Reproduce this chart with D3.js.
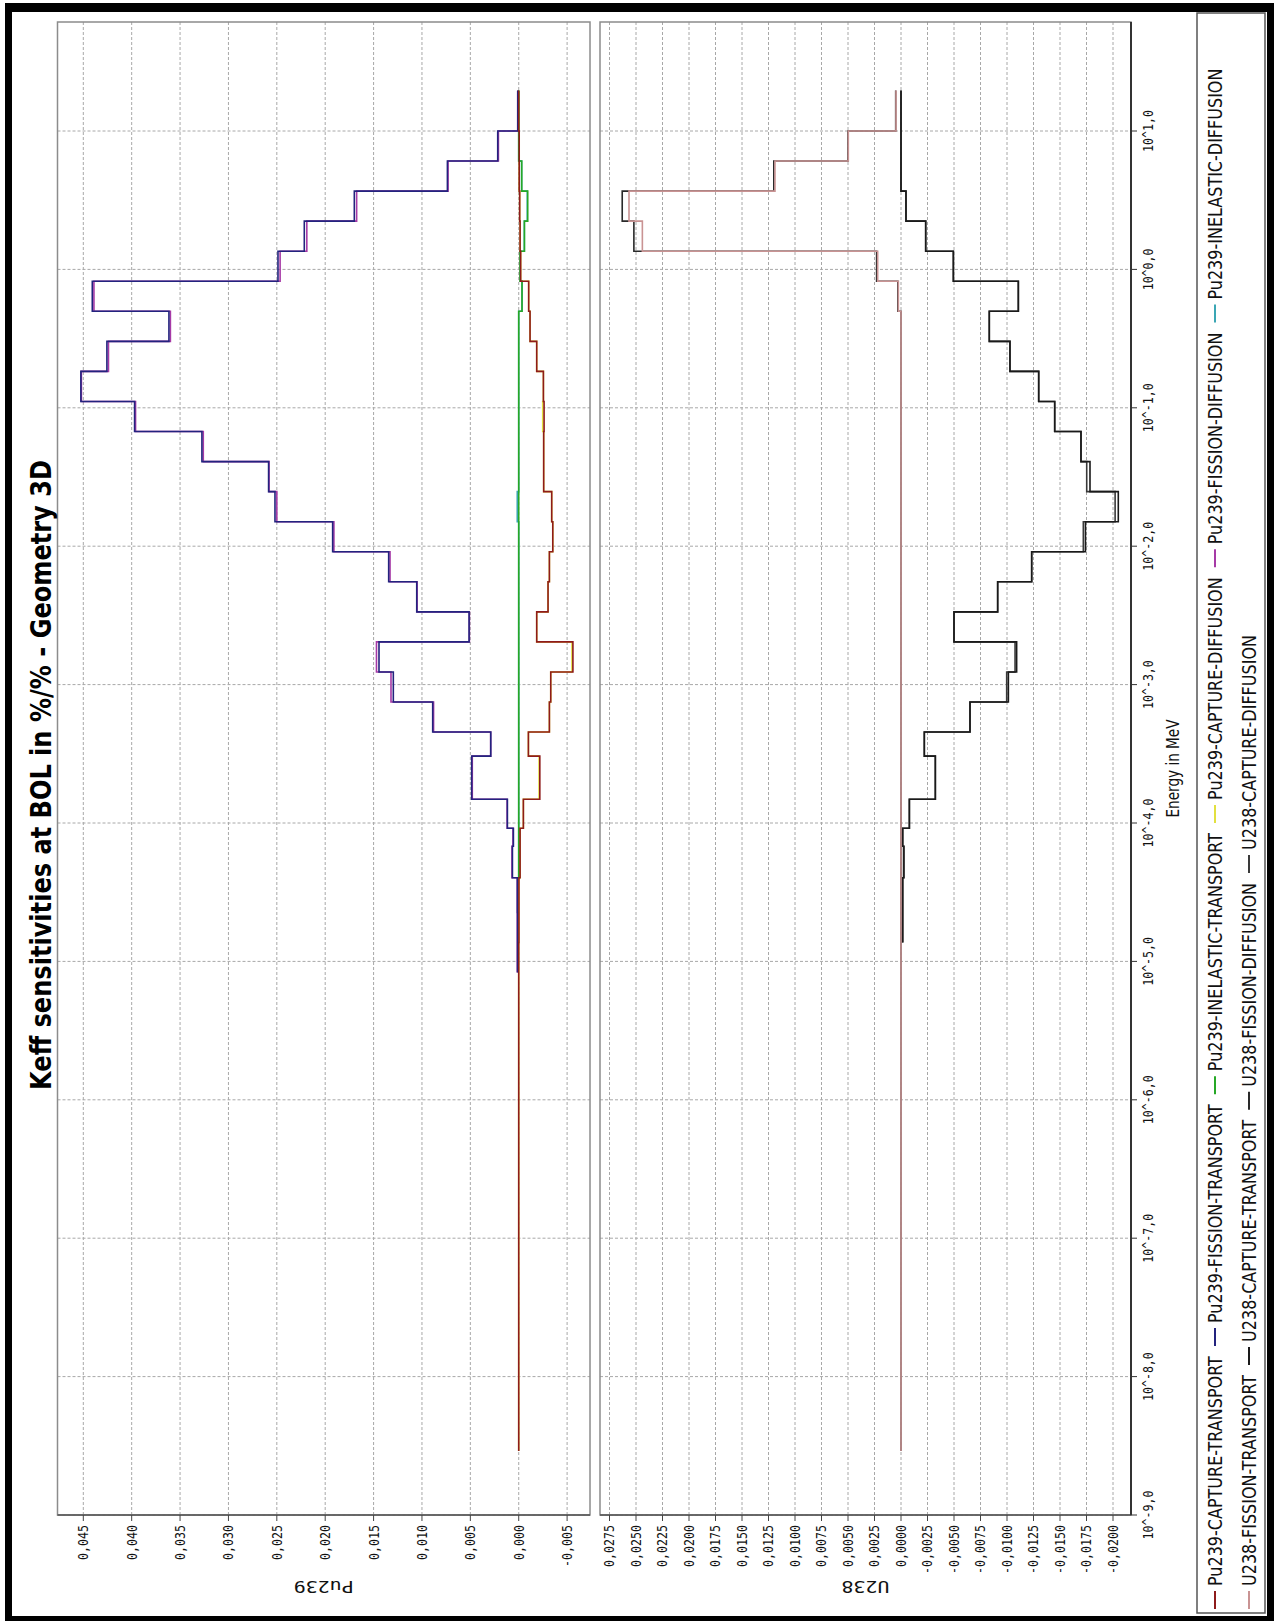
<!DOCTYPE html>
<html>
<head>
<meta charset="utf-8">
<script src="https://cdn.jsdelivr.net/npm/d3@7"></script>
<style>
  body { margin: 0; background: #fff; }
  svg { display: block; }
</style>
</head>
<body>
<svg id="chart" width="1274" height="1621"></svg>
<script>
// 33-group energy bounds in MeV, high to low (last one is where the plot stops)
const groupBounds = [19.64, 10.0, 6.065, 3.679, 2.231, 1.353, 0.8208, 0.4979, 0.3020, 0.1832,
  0.1111, 0.06738, 0.04087, 0.02479, 0.01503, 0.009119, 0.005531, 0.003355, 0.002035, 0.001234,
  7.485e-4, 4.540e-4, 3.043e-4, 1.486e-4, 9.166e-5, 6.790e-5, 4.017e-5, 2.260e-5, 1.371e-5,
  8.315e-6, 4.0e-6, 5.4e-7, 1.0e-7, 2.9e-9];

const energyDecades = [-9, -8, -7, -6, -5, -4, -3, -2, -1, 0, 1];
const puTicks = [0.045, 0.040, 0.035, 0.030, 0.025, 0.020, 0.015, 0.010, 0.005, 0.000, -0.005];
const uTicks = [0.0275, 0.0250, 0.0225, 0.0200, 0.0175, 0.0150, 0.0125, 0.0100, 0.0075, 0.0050,
  0.0025, 0.0000, -0.0025, -0.0050, -0.0075, -0.0100, -0.0125, -0.0150, -0.0175, -0.0200];

// group values, group 1 (highest energy) first
const pu239CaptureTransport = [0, -0.00005, -0.00005, -0.0001, -0.00014, -0.0002, -0.00103, -0.00117,
  -0.00186, -0.00255, -0.00262, -0.00258, -0.00258, -0.00341, -0.00352, -0.00317, -0.00303, -0.00186,
  -0.0056, -0.00331, -0.00317, -0.001, -0.00218, -0.00048, -0.00014, -0.00014, -0.00002, -0.00002,
  0, 0, 0, 0, 0];
const pu239FissionTransport = [0.0001, 0.00217, 0.00737, 0.01699, 0.02216, 0.02488, 0.04407, 0.03615,
  0.04256, 0.04525, 0.0397, 0.03274, 0.02585, 0.02519, 0.01923, 0.01344, 0.01054, 0.00513, 0.01444,
  0.01296, 0.00889, 0.00289, 0.00486, 0.00117, 0.00055, 0.00065, 0.00014, 0.00012, 0.00012];
const pu239InelasticTransport = [0, 0, -0.00031, -0.00093, -0.00059, -0.00014, -0.00034, 0, 0, 0,
  0, 0, 0, 0, 0, 0, 0, 0, 0, 0, 0, 0, 0, 0, 0, 0];
const pu239CaptureDiffusion = [0, -0.00005, -0.00005, -0.0001, -0.00014, -0.0002, -0.00103, -0.00117,
  -0.00186, -0.00255, -0.00248, -0.00258, -0.00258, -0.00341, -0.00352, -0.00317, -0.00303, -0.00186,
  -0.0055, -0.00331, -0.00317, -0.001, -0.0021, -0.00048, -0.00014, -0.00014, -0.00002, -0.00002,
  0, 0, 0, 0, 0];
const pu239FissionDiffusion = [0.0001, 0.0021, 0.0073, 0.01675, 0.0219, 0.02466, 0.0439, 0.0360,
  0.0424, 0.0452, 0.0396, 0.0326, 0.0258, 0.0250, 0.0191, 0.0133, 0.0105, 0.0051, 0.0147,
  0.0132, 0.0088, 0.0029, 0.0048, 0.0012, 0.0006, 0.0007, 0.00015, 0.00015, 0.00015];
const pu239InelasticDiffusion = [0, 0, -0.0003, -0.00088, -0.00058, -0.00014, -0.00034, 0, 0, 0,
  0, 0, 0, 0.00015, 0, 0, 0, 0, 0, 0, 0, 0, 0, 0, 0, 0];

const u238FissionTransport = [0.00047, 0.00497, 0.01189, 0.02566, 0.0244, 0.0022, 0.00025, 0, 0, 0,
  0, 0, 0, 0, 0, 0, 0, 0, 0, 0, 0, 0, 0, 0, 0, 0, 0, 0, 0, 0, 0, 0, 0];
const u238CaptureTransport = [0, 0, 0, -0.00047, -0.00233, -0.00494, -0.01107, -0.00833, -0.01028,
  -0.01299, -0.0145, -0.01698, -0.01783, -0.0205, -0.0174, -0.01233, -0.00912, -0.0050, -0.01091,
  -0.01013, -0.00651, -0.0022, -0.00324, -0.00079, -0.00016, -0.00028, -0.00016, -0.00016];
const u238FissionDiffusion = [0.0005, 0.0050, 0.0120, 0.0263, 0.0252, 0.0023, 0.0003, 0, 0, 0,
  0, 0, 0, 0, 0, 0, 0, 0, 0, 0, 0, 0, 0, 0, 0, 0, 0, 0, 0, 0, 0, 0, 0];
const u238CaptureDiffusion = [0, 0, 0, -0.00047, -0.00233, -0.00494, -0.01107, -0.00833, -0.01028,
  -0.01299, -0.0145, -0.01698, -0.01752, -0.0202, -0.0172, -0.01233, -0.00912, -0.0050, -0.01076,
  -0.00997, -0.00651, -0.0022, -0.00324, -0.00079, -0.00016, -0.00024, -0.00016, -0.00016];

const puSeries = [
  { name: "Pu239-CAPTURE-TRANSPORT", color: "#8e1b1b", values: pu239CaptureTransport },
  { name: "Pu239-FISSION-TRANSPORT", color: "#23237e", values: pu239FissionTransport },
  { name: "Pu239-INELASTIC-TRANSPORT", color: "#26a826", values: pu239InelasticTransport },
  { name: "Pu239-CAPTURE-DIFFUSION", color: "#e2e040", values: pu239CaptureDiffusion },
  { name: "Pu239-FISSION-DIFFUSION", color: "#a63aa6", values: pu239FissionDiffusion },
  { name: "Pu239-INELASTIC-DIFFUSION", color: "#3aa6b4", values: pu239InelasticDiffusion }
];
const uSeries = [
  { name: "U238-FISSION-TRANSPORT", color: "#c99393", values: u238FissionTransport },
  { name: "U238-CAPTURE-TRANSPORT", color: "#1a1a1a", values: u238CaptureTransport },
  { name: "U238-FISSION-DIFFUSION", color: "#2a2a2a", values: u238FissionDiffusion },
  { name: "U238-CAPTURE-DIFFUSION", color: "#3a3a3a", values: u238CaptureDiffusion }
];

const W = 1274, H = 1621;
const svg = d3.select("#chart");

// black frame round the picture
svg.append("path")
  .attr("d", `M5,3H${W}V${H}H5Z M12,12V1616H1267V12Z`)
  .attr("fill", "#000")
  .attr("fill-rule", "evenodd");

// the chart is laid out unrotated (width H, height W) and turned a quarter left
const g = svg.append("g").attr("transform", `translate(0,${H}) rotate(-90)`);

const plotLeft = 106, plotRight = 1599;
const x = d3.scaleLog().domain([1e-9, 10]).range([plotLeft, 1490]);
const yPu = d3.scaleLinear().domain([0.045, -0.005]).range([83.3, 567.1]);
const yU = d3.scaleLinear().domain([0.0275, -0.02]).range([609.5, 1113]);

const tickFont = "'DejaVu Sans Mono', monospace";
const squeeze = 0.8;

function fmt(v, digits) {
  return (v < 0 ? "-" : "") + Math.abs(v).toFixed(digits).replace(".", ",");
}

function stepPoints(values) {
  const pts = [];
  for (let i = values.length - 1; i >= 0; i--) {
    pts.push([groupBounds[i + 1], values[i]]);
    pts.push([groupBounds[i], values[i]]);
  }
  return pts;
}

function drawPanel(yScale, top, bottom, ticks, digits, label, series) {
  const panel = g.append("g");

  // grid
  panel.selectAll("line.egrid")
    .data(energyDecades)
    .enter().append("line")
    .attr("x1", d => x(Math.pow(10, d))).attr("x2", d => x(Math.pow(10, d)))
    .attr("y1", top).attr("y2", bottom)
    .attr("stroke", "#a8a8a8").attr("stroke-dasharray", "3,2");
  panel.selectAll("line.vgrid")
    .data(ticks)
    .enter().append("line")
    .attr("x1", plotLeft).attr("x2", plotRight)
    .attr("y1", d => yScale(d)).attr("y2", d => yScale(d))
    .attr("stroke", "#a8a8a8").attr("stroke-dasharray", "3,2");

  panel.append("rect")
    .attr("x", plotLeft).attr("y", top)
    .attr("width", plotRight - plotLeft).attr("height", bottom - top)
    .attr("fill", "none").attr("stroke", "#8c8c8c").attr("stroke-width", 1.5);
  panel.append("line")
    .attr("x1", plotLeft).attr("x2", plotLeft).attr("y1", top).attr("y2", bottom)
    .attr("stroke", "#555").attr("stroke-width", 1.5);

  // value ticks and labels
  panel.selectAll("line.tick")
    .data(ticks)
    .enter().append("line")
    .attr("x1", plotLeft - 6).attr("x2", plotLeft)
    .attr("y1", d => yScale(d)).attr("y2", d => yScale(d))
    .attr("stroke", "#444");
  panel.selectAll("text.tick")
    .data(ticks)
    .enter().append("text")
    .attr("transform", d => `translate(${plotLeft - 10},${yScale(d)}) scale(${squeeze},1)`)
    .attr("text-anchor", "end")
    .attr("dominant-baseline", "central")
    .style("font-family", tickFont).style("font-size", "14.5px").attr("fill", "#111")
    .text(d => fmt(d, digits));

  panel.append("text")
    .attr("transform", `translate(34,${(top + bottom) / 2}) scale(${squeeze},1) rotate(-90)`)
    .attr("text-anchor", "middle")
    .attr("dominant-baseline", "central")
    .style("font-family", tickFont).style("font-size", "20px").attr("fill", "#111")
    .text(label);

  // curves, last legend entry first so the transport curves sit on top
  const line = d3.line().x(d => x(d[0])).y(d => yScale(d[1]));
  panel.selectAll("path.curve")
    .data(series.slice().reverse())
    .enter().append("path")
    .attr("d", d => line(stepPoints(d.values)))
    .attr("fill", "none")
    .attr("stroke", d => d.color)
    .attr("stroke-width", 1.6);
}

drawPanel(yPu, 57.5, 590, puTicks, 3, "Pu239", puSeries);
drawPanel(yU, 600, 1131, uTicks, 4, "U238", uSeries);

// energy axis
const axisY = 1131;
g.append("line")
  .attr("x1", plotLeft).attr("x2", plotRight).attr("y1", axisY).attr("y2", axisY)
  .attr("stroke", "#333").attr("stroke-width", 2);
g.selectAll("line.etick")
  .data(energyDecades)
  .enter().append("line")
  .attr("x1", d => x(Math.pow(10, d))).attr("x2", d => x(Math.pow(10, d)))
  .attr("y1", axisY).attr("y2", axisY + 6)
  .attr("stroke", "#333");
g.selectAll("text.etick")
  .data(energyDecades)
  .enter().append("text")
  .attr("transform", d => `translate(${x(Math.pow(10, d))},1153) scale(${squeeze},1)`)
  .attr("text-anchor", "middle")
  .style("font-family", tickFont).style("font-size", "14.5px").attr("fill", "#111")
  .text(d => `10^${d},0`);

g.append("text")
  .attr("transform", `translate(${(plotLeft + plotRight) / 2},1179) scale(${squeeze},1)`)
  .attr("text-anchor", "middle")
  .style("font-family", "'DejaVu Sans', sans-serif").style("font-size", "17px").attr("fill", "#111")
  .text("Energy in MeV");

// title
g.append("text")
  .attr("transform", `translate(846,51) scale(0.86,1)`)
  .attr("text-anchor", "middle")
  .style("font-family", "'DejaVu Sans', sans-serif").style("font-weight", "bold")
  .style("font-size", "28px").attr("fill", "#000")
  .text("Keff sensitivities  at BOL in %/% - Geometry 3D");

// legend
g.append("rect")
  .attr("x", 8).attr("y", 1197).attr("width", 1600).attr("height", 68)
  .attr("fill", "#fff").attr("stroke", "#555").attr("stroke-width", 1.5);

function legendRow(items, baseY) {
  let pos = 12;
  items.forEach(s => {
    g.append("line")
      .attr("x1", pos).attr("x2", pos + 18)
      .attr("y1", baseY - 7).attr("y2", baseY - 7)
      .attr("stroke", s.color).attr("stroke-width", 2);
    const t = g.append("text")
      .attr("transform", `translate(${pos + 23},${baseY}) scale(${squeeze},1)`)
      .style("font-family", "'DejaVu Sans', sans-serif").style("font-size", "20px").attr("fill", "#111")
      .text(s.name);
    pos += 23 + t.node().getComputedTextLength() * squeeze + 10;
  });
}
legendRow(puSeries, 1222);
legendRow(uSeries, 1256);
</script>
</body>
</html>
